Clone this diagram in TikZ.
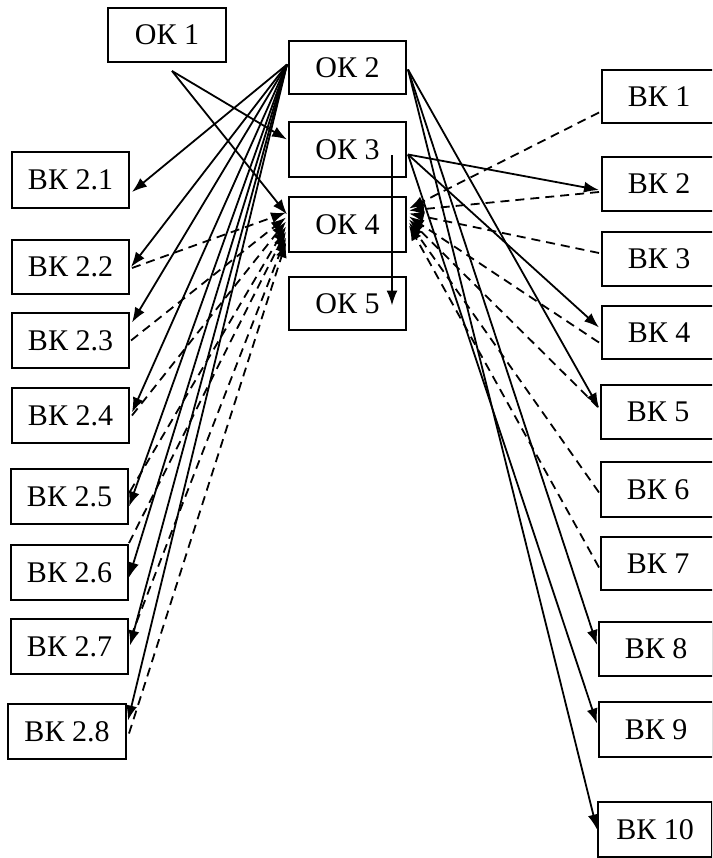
\documentclass[tikz,border=0pt]{standalone}
\usepackage{fontspec}
\setmainfont{Liberation Serif}
\usetikzlibrary{arrows.meta,calc}
\begin{document}
\begin{tikzpicture}[x=1pt,y=-1pt,
  box/.style={draw,line width=2pt,minimum width=117pt,minimum height=54pt,inner sep=0pt,font=\fontsize{30}{36}\selectfont},
  rbox/.style={box,minimum width=114pt},
  con/.style={line width=1.8pt,-{Latex[length=15pt,width=11pt]}},
  dcon/.style={con,dash pattern=on 9pt off 6pt}]
\useasboundingbox (0,0) rectangle (712,858);
\clip (0,0) rectangle (712,858);
\fill[white] (0,0) rectangle (712,858);

% centre column
\node[box,minimum width=118pt] (ok1) at (167,35) {ОК 1};
\node[box,minimum height=53pt] (ok2) at (347.5,67.5) {ОК 2};
\node[box,minimum height=55pt] (ok3) at (347.5,149.5) {ОК 3};
\node[box,minimum height=55pt] (ok4) at (347.5,224.5) {ОК 4};
\node[box,minimum height=53pt] (ok5) at (347.5,303.5) {ОК 5};

% left column
\node[box,minimum height=56pt] (b21) at (70.5,180) {ВК 2.1};
\node[box] (b22) at (70.5,267) {ВК 2.2};
\node[box,minimum height=55pt] (b23) at (70.5,340.5) {ВК 2.3};
\node[box,minimum height=55pt] (b24) at (70.5,415.5) {ВК 2.4};
\node[box,minimum height=55pt] (b25) at (69.5,496.5) {ВК 2.5};
\node[box,minimum height=55pt] (b26) at (69.5,572.5) {ВК 2.6};
\node[box,minimum height=55pt] (b27) at (69.5,646.5) {ВК 2.7};
\node[box,minimum height=55pt,minimum width=118pt] (b28) at (67,731.5) {ВК 2.8};

% right column
\node[rbox,minimum height=53pt] (k1) at (659,96.5) {ВК 1};
\node[rbox] (k2) at (659,184) {ВК 2};
\node[rbox] (k3) at (659,259) {ВК 3};
\node[rbox,minimum height=53pt] (k4) at (659,332.5) {ВК 4};
\node[rbox] (k5) at (658,412) {ВК 5};
\node[rbox,minimum height=55pt] (k6) at (658,489.5) {ВК 6};
\node[rbox,minimum height=53pt] (k7) at (658,563.5) {ВК 7};
\node[rbox] (k8) at (656,649) {ВК 8};
\node[rbox,minimum height=55pt] (k9) at (656,729.5) {ВК 9};
\node[rbox,minimum height=55pt] (k10) at (655,829.5) {ВК 10};

% OK1 arrows
\coordinate (o1s) at ($(ok1.south)+(5,8)$);
\draw[con] (o1s) -- ($(ok3.west)+(-1,-10)$);
\draw[con] (o1s) -- ($(ok4.west)+(-1,-10)$);

% OK3 -> OK5
\draw[con] ($(ok3.center)+(44.5,6)$) -- ($(ok5.center)+(44.5,2)$);

% OK2 -> left boxes
\coordinate (o2w) at ($(ok2.west)+(-1,-3)$);
\draw[con] (o2w) -- ($(b21.east)+(2,12)$);
\draw[con] (o2w) -- ($(b22.east)+(1,0)$);
\draw[con] (o2w) -- ($(b23.east)+(2,-18)$);
\draw[con] (o2w) -- ($(b24.east)+(2,-3)$);
\draw[con] (o2w) -- ($(b25.east)+(0,10)$);
\draw[con] (o2w) -- ($(b26.east)+(0,5)$);
\draw[con] (o2w) -- ($(b27.east)+(1,-1)$);
\draw[con] (o2w) -- ($(b28.east)+(1,-11)$);

% left boxes -> OK4 (dashed)
\draw[dcon] ($(b22.east)+(2,1)$) -- ($(ok4.west)+(-2,-12)$);
\draw[dcon] ($(b23.east)+(1,0)$) -- ($(ok4.west)+(-2,-7)$);
\draw[dcon] ($(b24.east)+(2,0)$) -- ($(ok4.west)+(-2,-3)$);
\draw[dcon] ($(b25.east)+(1,-5)$) -- ($(ok4.west)+(-2,2)$);
\draw[dcon] ($(b26.north east)+(0,-1)$) -- ($(ok4.west)+(-2,7)$);
\draw[dcon] ($(b27.east)+(2,-10)$) -- ($(ok4.west)+(-2,13)$);
\draw[dcon] ($(b28.east)+(2,2)$) -- ($(ok4.west)+(-2,18)$);

% OK2 / OK3 -> right boxes
\coordinate (o2e) at ($(ok2.east)+(1,2)$);
\coordinate (o3e) at ($(ok3.east)+(1,5)$);
\draw[con] (o3e) -- ($(k2.west)+(-2,6)$);
\draw[con] (o3e) -- ($(k4.west)+(-2,-5)$);
\draw[con] (o2e) -- ($(k5.west)+(-1,-4)$);
\draw[con] (o2e) -- ($(k8.west)+(-1,-4)$);
\draw[con] (o3e) -- ($(k9.west)+(-1,-6)$);
\draw[con] (o2e) -- ($(k10.west)+(0,0)$);

% right boxes -> OK4 (dashed)
\draw[dcon] ($(k1.west)+(-2,16)$) -- ($(ok4.east)+(2,-16)$);
\draw[dcon] ($(k2.west)+(-2,8)$) -- ($(ok4.east)+(2,-14)$);
\draw[dcon] ($(k3.west)+(-2,-6)$) -- ($(ok4.east)+(2,-11)$);
\draw[dcon] ($(k4.west)+(-2,10)$) -- ($(ok4.east)+(2,-8)$);
\draw[dcon] ($(k5.west)+(-2,-5)$) -- ($(ok4.east)+(2,-5)$);
\draw[dcon] ($(k6.west)+(-1,3)$) -- ($(ok4.east)+(2,-2)$);
\draw[dcon] ($(k7.west)+(-1,4)$) -- ($(ok4.east)+(2,1)$);
\end{tikzpicture}
\end{document}
